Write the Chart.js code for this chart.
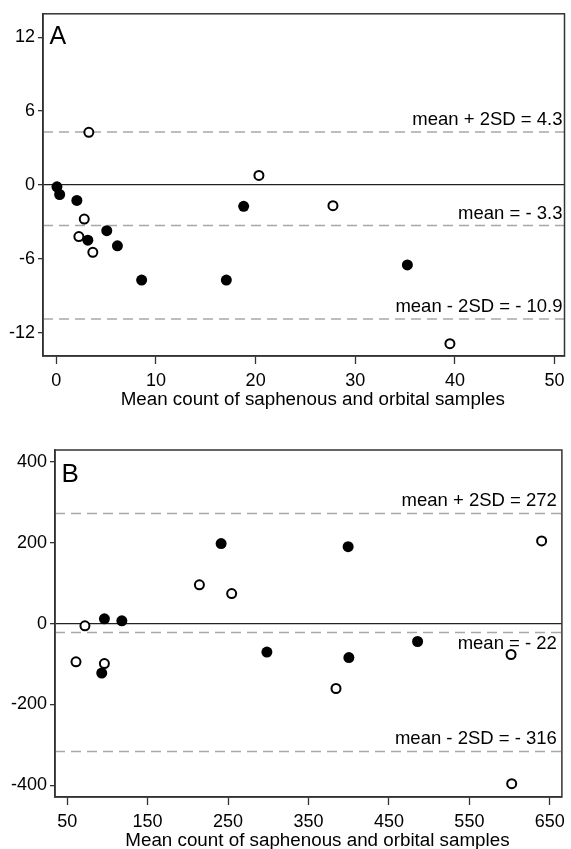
<!DOCTYPE html>
<html>
<head>
<meta charset="utf-8">
<script src="https://cdn.jsdelivr.net/npm/chart.js@4/dist/chart.umd.min.js"></script>
<style>
    body { margin: 0; background: #fff; }
    .panel { position: absolute; left: 0; }
</style>
</head>
<body>
<div class="panel" style="top:0"><canvas id="panel-a" width="571" height="420"></canvas></div>
<div class="panel" style="top:420px"><canvas id="panel-b" width="571" height="429"></canvas></div>
<script>
// Bland-Altman style plots, saphenous vs orbital counts

const FONT = '"Liberation Sans", Arial, sans-serif';
const X_TITLE = 'Mean count of saphenous and orbital samples';

// Panel A data
const aSolidX = [0.06, 0.33, 2.06, 3.16, 5.06, 6.13, 8.56, 17.06, 18.8, 35.23];
const aSolidY = [-0.16, -0.78, -1.26, -4.49, -3.72, -4.95, -7.73, -7.73, -1.74, -6.5];
const aOpenX = [3.26, 2.8, 2.26, 3.66, 20.33, 27.76, 39.5];
const aOpenY = [4.27, -2.78, -4.2, -5.48, 0.77, -1.69, -12.9];
const aLimits = [4.3, -3.3, -10.9];
const aLimitLabels = ['mean + 2SD = 4.3', 'mean = - 3.3', 'mean - 2SD = - 10.9'];
const aXTicks = [0, 10, 20, 30, 40, 50];
const aYTicks = [-12, -6, 0, 6, 12];

// Panel B data
const bSolidX = [96.3, 118, 93, 241.4, 298.3, 399.3, 400.2, 485.6];
const bSolidY = [11.6, 6.7, -122.5, 197.5, -70.6, 190, -84, -44.4];
const bOpenX = [61, 72.1, 96.3, 214.4, 254.5, 384.2, 601.8, 639.8, 602.6];
const bOpenY = [-94.6, -5.7, -98.8, 95.6, 74, -160.5, -76.5, 204.2, -395.8];
const bLimits = [272, -22, -316];
const bLimitLabels = ['mean + 2SD = 272', 'mean = - 22', 'mean - 2SD = - 316'];
const bXTicks = [50, 150, 250, 350, 450, 550, 650];
const bYTicks = [-400, -200, 0, 200, 400];

function toPoints(xs, ys) {
    return xs.map(function(x, i) { return {x: x, y: ys[i]}; });
}

// Frame, panel letter, limit labels and axis title
const panelDecor = {
    id: 'panelDecor',
    afterDraw: function(chart) {
        const opts = chart.options.plugins.panelDecor;
        const ctx = chart.ctx;
        const a = chart.chartArea;
        const y = chart.scales.y;
        ctx.save();
        ctx.strokeStyle = '#333';
        ctx.lineWidth = 1.5;
        ctx.strokeRect(a.left, a.top, a.right - a.left, a.bottom - a.top);

        ctx.fillStyle = '#000';
        ctx.textAlign = 'left';
        ctx.textBaseline = 'alphabetic';
        ctx.font = opts.letterSize + 'px ' + FONT;
        ctx.fillText(opts.letter, a.left + 6.5, a.top + opts.letterDrop);

        ctx.font = '18.5px ' + FONT;
        ctx.textAlign = 'right';
        opts.limits.forEach(function(v, i) {
            const py = y.getPixelForValue(v);
            const below = opts.below.indexOf(i) !== -1;
            ctx.fillText(opts.labels[i], a.right - opts.labelInset, below ? py + 17 : py - 7);
        });

        ctx.font = '18.8px ' + FONT;
        ctx.textAlign = 'center';
        ctx.fillText(X_TITLE, (a.left + a.right) / 2 + 9, a.bottom + 48.5);
        ctx.restore();
    }
};

function makePanel(id, p) {
    const limitSets = p.limits.map(function(v) {
        return {
            type: 'line',
            data: [{x: p.xMin, y: v}, {x: p.xMax, y: v}],
            borderColor: '#a8a8a8',
            borderWidth: 1.6,
            borderDash: [10, 6],
            pointRadius: 0,
            order: 2
        };
    });

    return new Chart(document.getElementById(id), {
        type: 'scatter',
        data: {
            datasets: limitSets.concat([
                {
                    data: toPoints(p.solidX, p.solidY),
                    pointRadius: 5.5,
                    backgroundColor: '#000',
                    borderColor: '#000',
                    borderWidth: 0,
                    order: 1
                },
                {
                    data: toPoints(p.openX, p.openY),
                    pointRadius: 4.5,
                    backgroundColor: '#fff',
                    borderColor: '#000',
                    borderWidth: 2,
                    order: 1
                }
            ])
        },
        options: {
            responsive: false,
            animation: false,
            devicePixelRatio: 1,
            layout: { padding: p.padding },
            plugins: {
                legend: { display: false },
                tooltip: { enabled: false },
                panelDecor: {
                    letter: p.letter,
                    letterSize: p.letterSize,
                    letterDrop: p.letterDrop,
                    limits: p.limits,
                    labels: p.labels,
                    below: p.below,
                    labelInset: p.labelInset
                }
            },
            scales: {
                x: {
                    type: 'linear',
                    min: p.xMin,
                    max: p.xMax,
                    afterBuildTicks: function(scale) {
                        scale.ticks = p.xTicks.map(function(v) { return {value: v}; });
                    },
                    afterFit: function(scale) { scale.height = p.xHeight; },
                    grid: { drawOnChartArea: false, tickLength: 8, tickColor: '#333', tickWidth: 1.3 },
                    border: { color: '#333', width: 1.5 },
                    ticks: { color: '#000', padding: 6, maxRotation: 0, autoSkip: false, font: { family: FONT, size: 18 } }
                },
                y: {
                    type: 'linear',
                    min: p.yMin,
                    max: p.yMax,
                    afterBuildTicks: function(scale) {
                        scale.ticks = p.yTicks.map(function(v) { return {value: v}; });
                    },
                    afterFit: function(scale) { scale.width = p.yWidth; },
                    grid: {
                        tickLength: 5,
                        tickColor: '#333',
                        tickWidth: 1.3,
                        lineWidth: 1.3,
                        color: function(c) { return c.tick && c.tick.value === 0 ? '#222' : 'rgba(0,0,0,0)'; }
                    },
                    border: { color: '#333', width: 1.5 },
                    ticks: { color: '#000', padding: 3, autoSkip: false, font: { family: FONT, size: 18 } }
                }
            }
        },
        plugins: [panelDecor]
    });
}

makePanel('panel-a', {
    solidX: aSolidX, solidY: aSolidY, openX: aOpenX, openY: aOpenY,
    limits: aLimits, labels: aLimitLabels, below: [],
    xTicks: aXTicks, yTicks: aYTicks,
    xMin: -1.34, xMax: 51, yMin: -13.9, yMax: 13.9,
    padding: { top: 9, right: 4, left: 0, bottom: 0 },
    xHeight: 64, yWidth: 43,
    letter: 'A', letterSize: 25, letterDrop: 30.5, labelInset: 2
});

makePanel('panel-b', {
    solidX: bSolidX, solidY: bSolidY, openX: bOpenX, openY: bOpenY,
    limits: bLimits, labels: bLimitLabels, below: [1],
    xTicks: bXTicks, yTicks: bYTicks,
    xMin: 34.9, xMax: 665, yMin: -428.6, yMax: 428.8,
    padding: { top: 30, right: 2, left: 0, bottom: 0 },
    xHeight: 52, yWidth: 55,
    letter: 'B', letterSize: 26, letterDrop: 32.3, labelInset: 5
});
</script>
</body>
</html>
